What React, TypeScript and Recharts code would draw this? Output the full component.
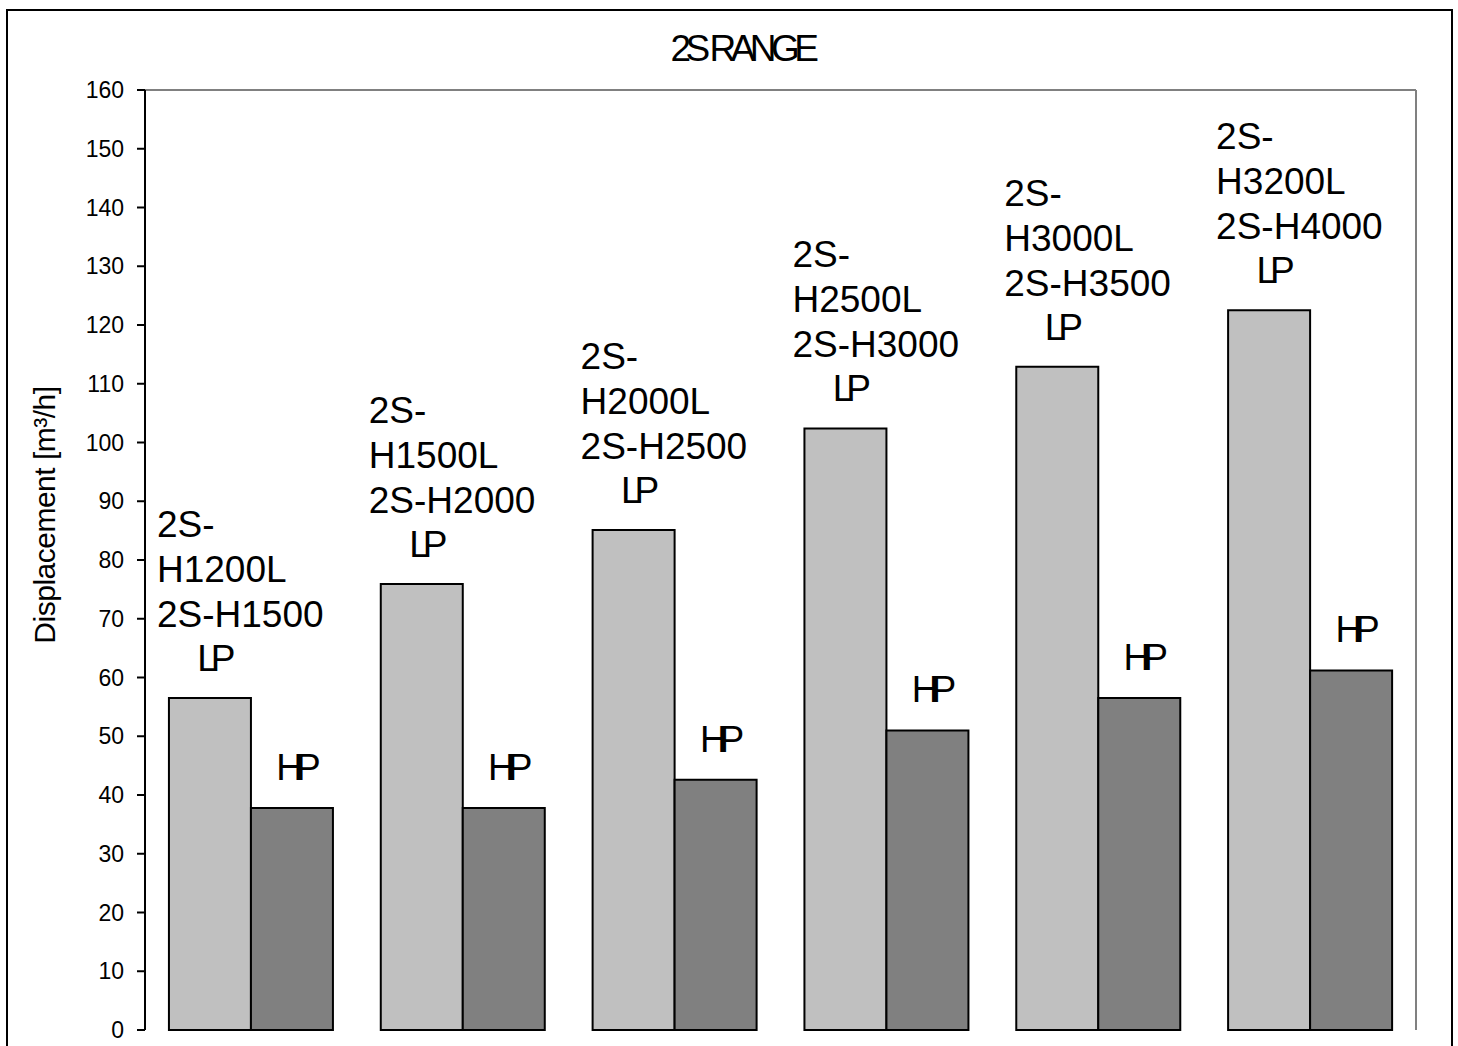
import { BarChart, Bar, XAxis, YAxis, Label, LabelList, CartesianGrid } from 'recharts';

// 2S range displacement, low / high pressure stage
const models = [
  '2S-H1200L 2S-H1500',
  '2S-H1500L 2S-H2000',
  '2S-H2000L 2S-H2500',
  '2S-H2500L 2S-H3000',
  '2S-H3000L 2S-H3500',
  '2S-H3200L 2S-H4000',
];
const lpValues = [56.5, 75.9, 85.1, 102.4, 112.9, 122.5];
const hpValues = [37.8, 37.8, 42.6, 51.0, 56.5, 61.2];
const yTicks = [0, 10, 20, 30, 40, 50, 60, 70, 80, 90, 100, 110, 120, 130, 140, 150, 160];

const data = models.map((name, i) => ({ name, lp: lpValues[i], hp: hpValues[i] }));

const FONT = 'Arial, "Liberation Sans", sans-serif';

// break the model name the way the old chart did: "2S-" / "H1200L" / "2S-H1500"
const wrapName = (name: string) => {
  const lines: string[] = [];
  name.split(' ').forEach((tok) => {
    if (tok.length > 8 && tok.includes('-')) {
      const k = tok.indexOf('-') + 1;
      lines.push(tok.slice(0, k), tok.slice(k));
    } else {
      lines.push(tok);
    }
  });
  return lines;
};

const renderLP = (props: any) => {
  const { x, y, width, index } = props;
  const cx = Number(x) + Number(width) / 2;
  const base = Number(y) - 27;
  const lines = wrapName(models[index]);
  return (
    <g key={`lp-${index}`} fontFamily={FONT} fill="#000">
      {lines.map((ln, i) => (
        <text key={i} x={Number(x) - 12} y={base - 44 - (lines.length - 1 - i) * 45} fontSize={37}>
          {ln}
        </text>
      ))}
      <text x={cx + 3} y={base} fontSize={37} textAnchor="middle" letterSpacing={-7}>
        LP
      </text>
    </g>
  );
};

const renderHP = (props: any) => {
  const { x, y, width, index } = props;
  const cx = Number(x) + Number(width) / 2;
  return (
    <text key={`hp-${index}`} x={cx + 3} y={Number(y) - 28} fontSize={37} fontFamily={FONT}
      textAnchor="middle" letterSpacing={-7} fill="#000">
      HP
    </text>
  );
};

// titles drawn once, hung off the y axis label slot
const renderTitles = () => (
  <g fontFamily={FONT} fill="#000">
    <text x={734} y={50} textAnchor="middle" fontSize={37} letterSpacing={-5.5}>
      2S RANGE
    </text>
    <text transform="translate(47,504) rotate(-90)" textAnchor="middle" fontSize={30} letterSpacing={-0.5}>
      Displacement [m³/h]
    </text>
  </g>
);

export default function App() {
  return (
    <div
      style={{
        position: 'absolute',
        left: 6,
        top: 9,
        width: 1447,
        height: 1037,
        boxSizing: 'border-box',
        borderTop: '2px solid #000',
        borderLeft: '2px solid #000',
        borderRight: '2px solid #000',
        background: '#fff',
      }}
    >
      <BarChart
        width={1443}
        height={1035}
        data={data}
        margin={{ top: 79, right: 35, left: 0, bottom: 16 }}
        barCategoryGap="11.3%"
        barGap={0}
      >
        {/* grey frame on top and right of the plot */}
        <CartesianGrid
          stroke="#808080"
          strokeWidth={2}
          horizontalCoordinatesGenerator={({ offset }: any) => [offset.top]}
          verticalCoordinatesGenerator={({ offset }: any) => [offset.left + offset.width]}
        />
        <XAxis
          dataKey="name"
          height={0}
          tick={false}
          tickLine={false}
          axisLine={{ stroke: '#000', strokeWidth: 2 }}
        />
        <YAxis
          width={137}
          domain={[0, 160]}
          ticks={yTicks}
          interval={0}
          tickSize={8}
          tickMargin={13}
          axisLine={{ stroke: '#000', strokeWidth: 2 }}
          tickLine={{ stroke: '#000', strokeWidth: 2 }}
          tick={{ fill: '#000', fontSize: 23, fontFamily: FONT }}
        >
          <Label content={renderTitles} />
        </YAxis>
        <Bar dataKey="lp" fill="#c0c0c0" stroke="#000" strokeWidth={2} isAnimationActive={false}>
          <LabelList dataKey="lp" content={renderLP} />
        </Bar>
        <Bar dataKey="hp" fill="#808080" stroke="#000" strokeWidth={2} isAnimationActive={false}>
          <LabelList dataKey="hp" content={renderHP} />
        </Bar>
      </BarChart>
    </div>
  );
}
